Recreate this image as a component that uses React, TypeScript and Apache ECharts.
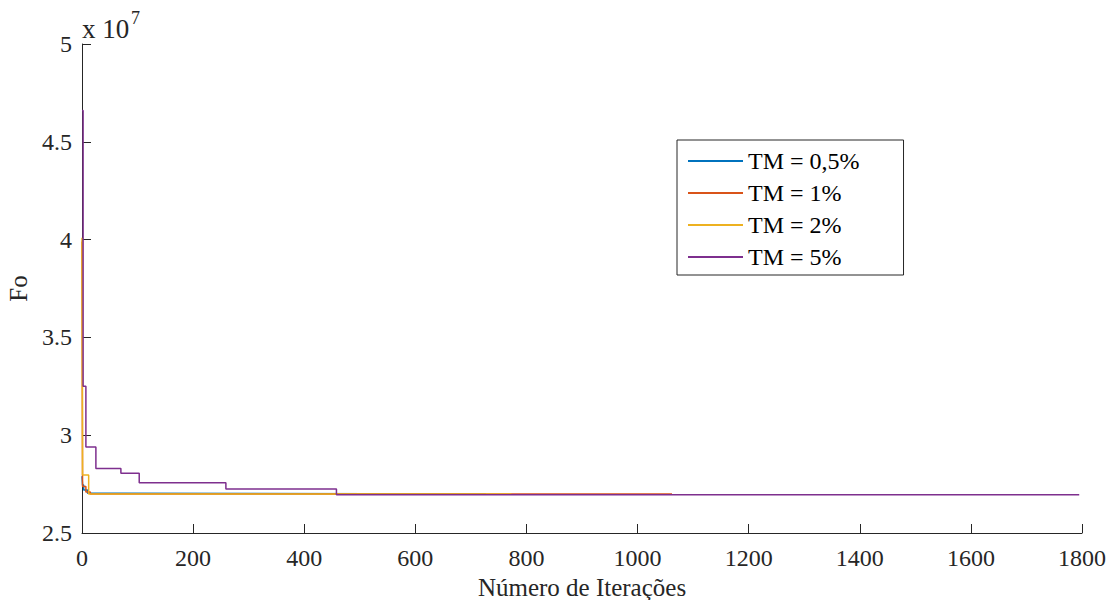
import React, { useEffect, useRef } from "react";
import * as echarts from "echarts";

const seriesNames = ["TM = 0,5%", "TM = 1%", "TM = 2%", "TM = 5%"];
const seriesColors = ["#0072BD", "#D95319", "#EDB120", "#7E2F8E"];

const itersTM05 = [0, 1, 3, 10, 70, 727];
const valsTM05 = [2.79e7, 2.745e7, 2.72e7, 2.703e7, 2.7e7, 2.7e7];

const itersTM1 = [0, 1, 7, 15, 1062];
const valsTM1 = [3.99e7, 2.738e7, 2.71e7, 2.699e7, 2.699e7];

const itersTM2 = [0, 1, 12, 773];
const valsTM2 = [4.01e7, 2.796e7, 2.7e7, 2.7e7];

const itersTM5 = [0, 2, 7, 25, 70, 103, 259, 458, 1795];
const valsTM5 = [4.66e7, 3.25e7, 2.94e7, 2.83e7, 2.805e7, 2.757e7, 2.725e7, 2.696e7, 2.696e7];

const xTicks = [0, 200, 400, 600, 800, 1000, 1200, 1400, 1600, 1800];
const yTickLabels = ["2.5", "3", "3.5", "4", "4.5", "5"];

const allIters = [itersTM05, itersTM1, itersTM2, itersTM5];
const allVals = [valsTM05, valsTM1, valsTM2, valsTM5];

const FONT = "Times New Roman, Liberation Serif, DejaVu Serif, serif";
const AX = "#262626";

export default function App() {
  const ref = useRef<HTMLDivElement>(null);
  useEffect(() => {
    if (!ref.current) return;
    const chart = echarts.init(ref.current, null, { renderer: "svg" });
    const series = seriesNames.map((name, i) => ({
      name,
      type: "line",
      step: "end",
      symbol: "none",
      data: allIters[i].map((x, j) => [x, allVals[i][j]]),
      lineStyle: { color: seriesColors[i], width: 1.5 },
      itemStyle: { color: seriesColors[i] },
      z: 2 + i,
    }));
    chart.setOption({
      animation: false,
      backgroundColor: "#ffffff",
      textStyle: { fontFamily: FONT },
      grid: {
        left: 82,
        right: 1120 - 1082,
        top: 44,
        bottom: 608 - 533,
        containLabel: false,
        outerBoundsMode: "none",
      },
      xAxis: {
        type: "value",
        min: xTicks[0],
        max: xTicks[xTicks.length - 1],
        interval: 200,
        name: "Número de Iterações",
        nameLocation: "middle",
        nameGap: 36,
        nameTextStyle: { fontFamily: FONT, fontSize: 25, color: AX },
        axisLine: { show: true, lineStyle: { color: AX, width: 1 } },
        axisTick: { show: true, inside: true, length: 9, lineStyle: { color: AX } },
        axisLabel: {
          fontFamily: FONT,
          fontSize: 24,
          color: AX,
          margin: 13,
          formatter: (v: number) => String(v),
        },
        splitLine: { show: false },
      },
      yAxis: {
        type: "value",
        min: 2.5e7,
        max: 5e7,
        interval: 0.5e7,
        name: "Fo",
        nameLocation: "middle",
        nameGap: 49,
        nameTextStyle: { fontFamily: FONT, fontSize: 25, color: AX },
        axisLine: { show: true, lineStyle: { color: AX, width: 1 } },
        axisTick: { show: true, inside: true, length: 9, lineStyle: { color: AX } },
        axisLabel: {
          fontFamily: FONT,
          fontSize: 24,
          color: AX,
          margin: 10,
          formatter: (v: number) => {
            const idx = Math.round((v - 2.5e7) / 0.5e7);
            return yTickLabels[idx] ?? "";
          },
        },
        splitLine: { show: false },
      },
      legend: {
        show: true,
        orient: "vertical",
        left: 677,
        top: 140,
        data: seriesNames,
        icon: "rect",
        itemWidth: 55,
        itemHeight: 2,
        itemGap: 8,
        padding: [9, 44, 6, 11],
        borderColor: AX,
        borderWidth: 1,
        backgroundColor: "#ffffff",
        textStyle: { fontFamily: FONT, fontSize: 24, color: "#000000" },
      },
      graphic: [
        {
          type: "text",
          left: 82,
          top: 15,
          style: {
            text: "x 10",
            fontFamily: FONT,
            fontSize: 27,
            fill: AX,
          },
        },
        {
          type: "text",
          left: 131,
          top: 9,
          style: {
            text: "7",
            fontFamily: FONT,
            fontSize: 18,
            fill: AX,
          },
        },
      ],
      series,
    });
    return () => chart.dispose();
  }, []);
  return <div ref={ref} style={{ width: 1120, height: 608, margin: -8 }} />;
}
